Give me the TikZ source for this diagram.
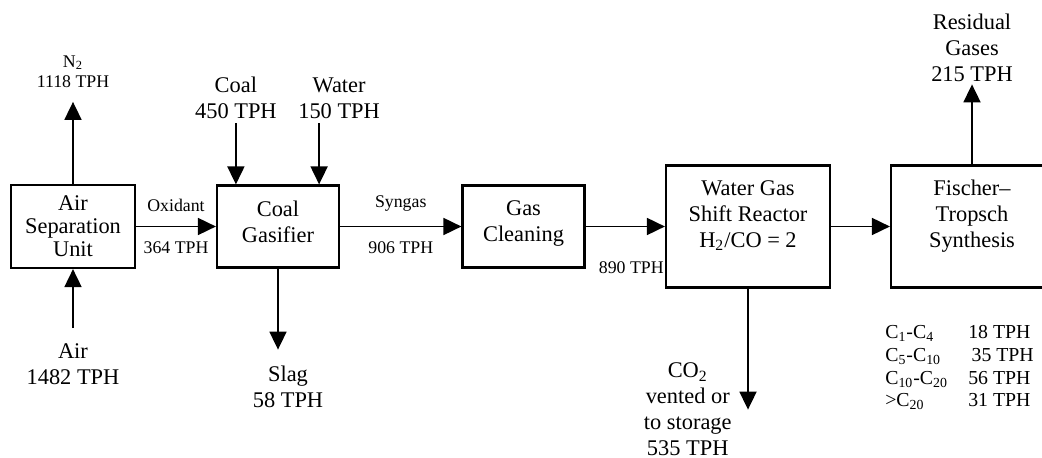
\documentclass[tikz,border=0pt]{standalone}
\usepackage{fontspec}
\setmainfont{Liberation Serif}
\usepackage{tikz}
\usepackage{xcolor}
\usetikzlibrary{positioning,arrows.meta}

\newcommand\flowfont{\fontsize{11.2}{13}\selectfont}
\newcommand\tagfont{\fontsize{8.9}{10}\selectfont}
\newcommand\tabfont{\fontsize{9.9}{11.3}\selectfont}

\begin{document}
\begin{tikzpicture}[node distance=100pt,
box/.style={rectangle, draw, line width=1.1pt, align=center, inner sep=1pt, minimum width=61pt, minimum height=41pt, font=\flowfont},
bigbox/.style={box, minimum width=82pt, minimum height=61pt},
arrow/.style={-{Triangle[length=9pt, width=8.5pt]}, line width=0.9pt},
flow/.style={align=center, inner sep=0pt, font=\flowfont},
tag/.style={align=center, inner sep=0pt, font=\tagfont}]
\useasboundingbox (0,0) rectangle (521pt,-229pt);

% main train
\node[box, minimum width=62pt, minimum height=41.5pt, font=\fontsize{11.2}{11.5}\selectfont] (asu) at (36.5pt,-113.25pt) {Air\\Separation\\Unit};
\node[box, right of=asu, xshift=2.5pt, text depth=5pt] (gasifier) {Coal\\Gasifier};
\node[box, right of=gasifier, xshift=22.75pt, text depth=5pt] (cleaning) {Gas\\Cleaning};
\node[bigbox, right of=cleaning, xshift=12.25pt] (shift) {};
\node[bigbox, right of=shift, xshift=12pt, minimum width=81pt] (ft) {};
\node[flow, below=8pt of shift.north] (shifttext) {Water Gas\\Shift Reactor\\H\textsubscript{2}/CO = 2};
\node[flow, below=7.5pt of ft.north] (fttext) {Fischer--\\Tropsch\\Synthesis};

\draw[arrow] (asu) -- node[tag, above=7pt] (oxidant) {Oxidant} node[tag, below=7pt] (oxflow) {364 TPH} (gasifier);
\draw[arrow] (gasifier) -- node[tag, above=7pt] (syngas) {Syngas} node[tag, below=7pt] (synflow) {906 TPH} (cleaning);
\draw[arrow] (cleaning) -- node[tag, below=17pt, xshift=3pt] (cleanflow) {890 TPH} (shift);
\draw[arrow] (shift) -- (ft);

% air separation streams
\coordinate[above=41pt of asu.north] (n2end);
\coordinate[below=29.5pt of asu.south] (airstart);
\draw[arrow] (asu) -- (n2end);
\draw[arrow] (airstart) -- (asu);
\node[tag, above=7pt of n2end] (n2) {N\textsubscript{2}\\1118 TPH};
\node[flow, below=7.5pt of airstart] (air) {Air\\1482 TPH};

% gasifier feeds and slag
\coordinate[right=10pt of gasifier.north west] (coalend);
\coordinate[above=30.5pt of coalend] (coalstart);
\coordinate[left=10.5pt of gasifier.north east] (waterend);
\coordinate[above=30.5pt of waterend] (waterstart);
\coordinate[below=40.5pt of gasifier.south] (slagend);
\draw[arrow] (coalstart) -- (coalend);
\draw[arrow] (waterstart) -- (waterend);
\draw[arrow] (gasifier) -- (slagend);
\node[flow, above=2.25pt of coalstart] (coal) {Coal\\450 TPH};
\node[flow, above=2.25pt of waterstart, xshift=10pt] (water) {Water\\150 TPH};
\node[flow, below=8pt of slagend, xshift=5pt] (slag) {Slag\\58 TPH};

% shift and FT outlets
\coordinate[below=60.5pt of shift.south] (co2end);
\coordinate[above=40pt of ft.north] (residend);
\draw[arrow] (shift) -- (co2end);
\draw[arrow] (ft) -- (residend);
\node[flow, left=8pt of co2end] (co2) {CO\textsubscript{2}\\vented or\\to storage\\535 TPH};
\node[flow, above=1.25pt of residend] (resid) {Residual\\Gases\\215 TPH};

\node[inner sep=0pt, font=\tabfont, below=17pt of ft.south west, anchor=north west, xshift=-2.5pt] (products) {%
\begin{tabular}{@{}p{41.5pt}@{}l@{}}
C\textsubscript{1}-C\textsubscript{4} & 18 TPH\\
C\textsubscript{5}-C\textsubscript{10} & \,35 TPH\\
C\textsubscript{10}-C\textsubscript{20} & 56 TPH\\
>C\textsubscript{20} & 31 TPH
\end{tabular}};
\end{tikzpicture}
\end{document}
